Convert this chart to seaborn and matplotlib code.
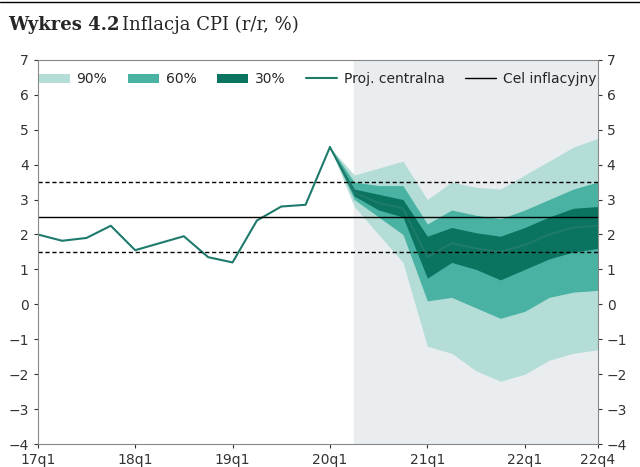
import numpy as np
import matplotlib.pyplot as plt
import seaborn as sns

sns.set_style("white")

quarters = [f"{y}q{q}" for y in range(17, 23) for q in range(1, 5)]
hist = [2.0, 1.82, 1.9, 2.25, 1.55, 1.75, 1.95, 1.35, 1.2, 2.4, 2.8, 2.85, 4.5]
central = [4.5, 3.2, 2.9, 2.75, 1.35, 1.75, 1.6, 1.5, 1.7, 2.0, 2.2, 2.25]
u90 = [4.5, 3.7, 3.9, 4.1, 3.0, 3.5, 3.35, 3.3, 3.7, 4.1, 4.5, 4.75]
l90 = [4.5, 2.8, 2.0, 1.2, -1.2, -1.4, -1.9, -2.2, -2.0, -1.6, -1.4, -1.3]
u60 = [4.5, 3.5, 3.4, 3.4, 2.3, 2.7, 2.55, 2.45, 2.7, 3.0, 3.3, 3.5]
l60 = [4.5, 3.0, 2.5, 2.0, 0.1, 0.2, -0.1, -0.4, -0.2, 0.2, 0.35, 0.4]
u30 = [4.5, 3.3, 3.15, 3.0, 1.95, 2.2, 2.05, 1.95, 2.2, 2.5, 2.75, 2.8]
l30 = [4.5, 3.1, 2.7, 2.5, 0.75, 1.2, 1.0, 0.7, 1.0, 1.3, 1.5, 1.6]
tick_labels = ["17q1", "18q1", "19q1", "20q1", "21q1", "22q1", "22q4"]
tick_pos = [0, 4, 8, 12, 16, 20, 23]

fig = plt.figure(figsize=(6.4, 4.67), dpi=100)
ax = fig.add_axes([0.059, 0.049, 0.875, 0.823])
xh = np.arange(len(hist))
xf = np.arange(12, 24)

ax.axvspan(13, 23, color="#e9edef", zorder=0)
ax.fill_between(xf, l90, u90, color="#b3ddd6", lw=0, label="90%")
ax.fill_between(xf, l60, u60, color="#49b2a3", lw=0, label="60%")
ax.fill_between(xf, l30, u30, color="#0b7461", lw=0, label="30%")
sns.lineplot(x=xh, y=hist, ax=ax, color="#1e7b6c", lw=1.5, label="Proj. centralna")
sns.lineplot(x=xf, y=central, ax=ax, color="#1e7b6c", lw=1.5, legend=False)
ax.axhline(2.5, color="black", lw=1, label="Cel inflacyjny")
ax.axhline(3.5, color="black", lw=1, ls=(0, (3, 2)))
ax.axhline(1.5, color="black", lw=1, ls=(0, (3, 2)))

ax.set_xlim(0, 23)
ax.set_ylim(-4, 7)
ax.set_yticks(range(-4, 8))
ax.set_xticks(tick_pos)
ax.set_xticklabels(tick_labels)
ax.tick_params(axis="both", labelsize=10, colors="#333333", length=3, direction="out")
ax.tick_params(axis="y", right=True, labelright=True, left=True)
ax.tick_params(axis="x", bottom=True)
for s in ax.spines.values():
    s.set_color("#888888")
    s.set_linewidth(0.8)

ax.legend(ncol=5, loc="upper center", bbox_to_anchor=(0.5, 1.0), frameon=False,
          fontsize=10, handlelength=2.2, columnspacing=1.5, handletextpad=0.5)

fig.text(0.012, 0.935, "Wykres 4.2", fontsize=13, fontweight="bold", family="DejaVu Serif")
fig.text(0.19, 0.935, "Inflacja CPI (r/r, %)", fontsize=13, family="DejaVu Serif")
fig.add_artist(plt.Line2D([0, 1], [0.995, 0.995], color="black", lw=1))

fig.savefig("out.png", dpi=100)
